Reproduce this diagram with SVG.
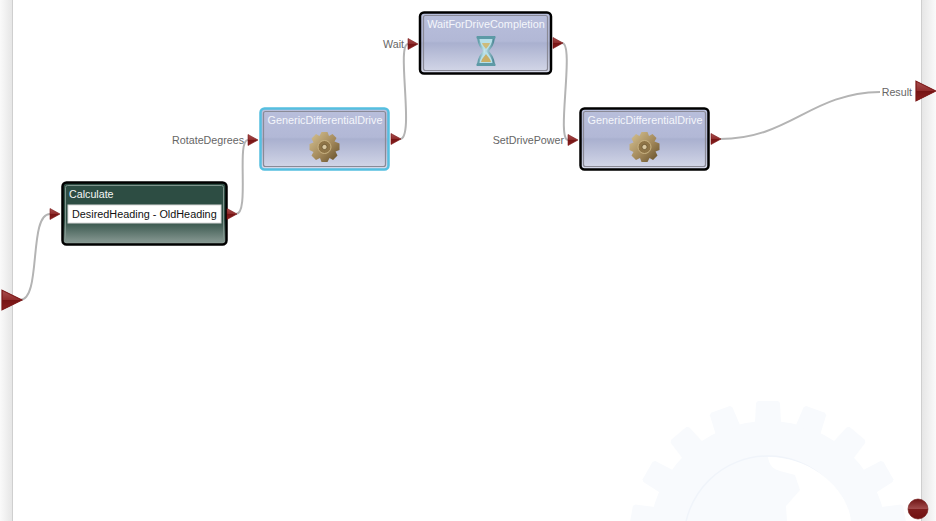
<svg xmlns="http://www.w3.org/2000/svg" xmlns:xlink="http://www.w3.org/1999/xlink" width="936" height="521" viewBox="0 0 936 521">
<style>
text{font-family:"Liberation Sans",Arial,sans-serif;font-size:10.700px}
.lbl{fill:#666;text-anchor:end}
.ttl{fill:#f4f6fb;text-anchor:middle;font-size:10.850px}
.wire{fill:none;stroke:#b4b4b4;stroke-width:2}
.blue{fill:url(#gb)}
.in{fill:none;stroke:#8a8a96;stroke-width:1.2}
.wm{fill:#f8fafd}
</style>
<defs>
<linearGradient id="gb" x1="0" y1="0" x2="0" y2="1"><stop offset="0" stop-color="#b9bfdc"/><stop offset=".47" stop-color="#b2b8d6"/><stop offset=".5" stop-color="#a9b0cf"/><stop offset="1" stop-color="#d6d9e9"/></linearGradient>
<linearGradient id="gd" x1="0" y1="0" x2="0" y2="1"><stop offset="0" stop-color="#2d4d43"/><stop offset=".6" stop-color="#2d4d43"/><stop offset="1" stop-color="#8f9f99"/></linearGradient>
<linearGradient id="gl" x1="0" y1="0" x2="1" y2="0"><stop offset="0" stop-color="#fafafa"/><stop offset="1" stop-color="#e6e6e6"/></linearGradient>
<linearGradient id="gr" x1="0" y1="0" x2="1" y2="0"><stop offset="0" stop-color="#e6e6e6"/><stop offset="1" stop-color="#fafafa"/></linearGradient>
<linearGradient id="gp" x1="0" y1="0" x2="0" y2="1"><stop offset="0" stop-color="#a85050"/><stop offset=".5" stop-color="#8f2a2a"/><stop offset=".5" stop-color="#741414"/><stop offset="1" stop-color="#8c2020"/></linearGradient>
<linearGradient id="go" x1="0" y1="0" x2="0" y2="1"><stop offset="0" stop-color="#6e1414"/><stop offset=".48" stop-color="#a04a4a"/><stop offset=".52" stop-color="#7c1c1c"/><stop offset="1" stop-color="#701010"/></linearGradient>
<linearGradient id="gc" x1="0" y1="0" x2="1" y2="1"><stop offset="0" stop-color="#d8c595"/><stop offset=".55" stop-color="#a2885a"/><stop offset="1" stop-color="#5f4a25"/></linearGradient>
<linearGradient id="gg" x1="0" y1="0" x2="1" y2="0"><stop offset="0" stop-color="#5d9aa6"/><stop offset=".4" stop-color="#c5e6ec"/><stop offset="1" stop-color="#4b8795"/></linearGradient>
<polygon id="ps" points="0,-5.500 10,0 0,5.500" fill="url(#gp)" stroke="#7a1616" stroke-width=".6"/>
<g id="cog">
<polygon fill="url(#gc)" points="-3,-15 3,-15 4.500,-11 8,-13 12,-9 10,-5.500 15,-3.500 15,3 11,4.500 13,8.500 8.500,13 5,11 3,15 -3,15 -4.500,11 -8.500,13 -13,8.500 -11,5 -15,3 -15,-3 -11,-4.500 -13,-8.500 -8.500,-13 -5,-11"/>
<circle r="6.500" fill="#8f7547" stroke="#c9b382" stroke-width="1"/>
<circle r="2.600" fill="#d9c8a0" stroke="#5f4b26" stroke-width=".7"/>
</g>
<polygon id="t" points="-13,-117 -12,-137 -10,-139 10,-139 12,-137 13,-117"/>
</defs>

<rect width="936" height="521" fill="#fff"/>
<rect x="0" y="0" width="12" height="521" fill="url(#gl)"/>
<rect x="922" y="0" width="14" height="521" fill="url(#gr)"/>
<path d="M12.500 0V521M921.500 0V521" stroke="#cfcfcf" fill="none"/>

<g id="watermark" class="wm" transform="translate(768 540)">
<circle r="119"/>
<use xlink:href="#t"/>
<use xlink:href="#t" transform="rotate(20)"/><use xlink:href="#t" transform="rotate(40)"/><use xlink:href="#t" transform="rotate(60)"/><use xlink:href="#t" transform="rotate(80)"/>
<use xlink:href="#t" transform="rotate(-20)"/><use xlink:href="#t" transform="rotate(-40)"/><use xlink:href="#t" transform="rotate(-60)"/><use xlink:href="#t" transform="rotate(-80)"/>
<circle r="84" fill="#f8fafd" stroke="#f0f4fa" stroke-width="1.500"/>
<path d="M0-83C1-76 4-71 12-69L27-65 32-50 18-34 19-19H83C80-50 45-83 0-83Z" fill="#fff"/>
</g>

<g id="connectors" class="wire">
<path d="M20 300C42 300 28 214 50 214"/>
<path d="M236 214C250 214 236 140 248 140"/>
<path d="M400 139C415 139 396 44 408 44"/>
<path d="M562 43C575 43 556 140 568 140"/>
<path d="M720 139C790 139 810 93 880 92"/>
</g>

<g id="port-in"><use xlink:href="#ps" transform="translate(2 300) scale(2 1.800)"/></g>
<g id="port-out"><use xlink:href="#ps" transform="translate(916 91) scale(2 1.800)"/></g>
<g id="port-end"><circle cx="918" cy="509" r="10" fill="url(#go)" stroke="#6e1212" stroke-width=".6"/></g>

<g id="node-calculate">
<rect x="62.500" y="182.500" width="164" height="62" rx="4" fill="url(#gd)" stroke="#000" stroke-width="2.500"/>
<rect x="65.500" y="185.500" width="158" height="56" rx="2" fill="none" stroke="#7f938c" stroke-width="1"/>
<text x="69" y="198" style="fill:#f4f6f4">Calculate</text>
<rect x="68" y="205" width="153" height="18" fill="#fff" stroke="#d8d8d8"/>
<text x="72" y="218" style="fill:#111;font-size:10.850px">DesiredHeading - OldHeading</text>
<use xlink:href="#ps" x="50" y="214"/><use xlink:href="#ps" x="227" y="214"/>
</g>

<g id="node-rotate">
<rect x="260.500" y="108.500" width="128" height="61" rx="4" class="blue" stroke="#55bfe0" stroke-width="2.500"/>
<rect x="263.500" y="111.500" width="122" height="55" rx="2" class="in"/>
<text class="ttl" x="325" y="124">GenericDifferentialDrive</text>
<use xlink:href="#cog" x="324.500" y="147"/>
<use xlink:href="#ps" x="248" y="140"/><use xlink:href="#ps" x="391" y="139"/>
<text class="lbl" x="244" y="144">RotateDegrees</text>
</g>

<g id="node-wait">
<rect x="420" y="12.500" width="131" height="61" rx="4" class="blue" stroke="#000" stroke-width="2.500"/>
<rect x="423.500" y="15.500" width="124" height="55" rx="2" class="in"/>
<text class="ttl" x="486" y="28">WaitForDriveCompletion</text>
<g id="hourglass">
<path d="M478 37H494L493 42C492 47 489 49 487.500 51 489 53 492 56 493 60L494 65H478L479 60C480 56 483 53 484.500 51 483 49 480 47 479 42Z" fill="#b6dfe8" stroke="url(#gg)" stroke-width="2.200"/>
<path d="M481 62C482 58 485 56 486 54 487 56 490 58 491 62Z" fill="#c9ae66"/>
<path d="M482 43H490C489 46 487 47 486 49 485 47 483 46 482 43Z" fill="#cdbb7a"/>
<rect x="476.500" y="36" width="19" height="3" rx="1.500" fill="#5d9aa6"/><rect x="476.500" y="63" width="19" height="3" rx="1.500" fill="#5d9aa6"/>
</g>
<use xlink:href="#ps" x="408" y="44"/><use xlink:href="#ps" x="553" y="43"/>
<text class="lbl" x="404" y="48">Wait</text>
</g>

<g id="node-setpower">
<rect x="580.500" y="108.500" width="128" height="61" rx="4" class="blue" stroke="#000" stroke-width="2.500"/>
<rect x="583.500" y="111.500" width="122" height="55" rx="2" class="in"/>
<text class="ttl" x="645" y="124">GenericDifferentialDrive</text>
<use xlink:href="#cog" x="644.500" y="147"/>
<use xlink:href="#ps" x="568" y="140"/><use xlink:href="#ps" x="711" y="139"/>
<text class="lbl" x="564" y="144">SetDrivePower</text>
</g>

<text class="lbl" x="912" y="96">Result</text>
</svg>
